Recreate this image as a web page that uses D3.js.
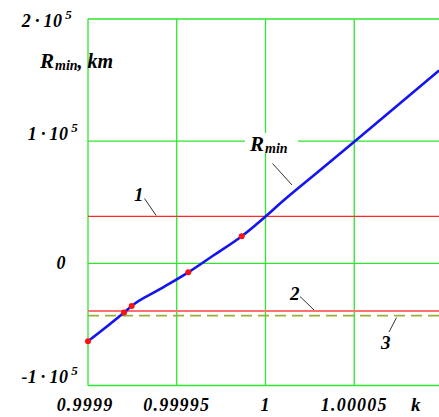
<!DOCTYPE html>
<html><head><meta charset="utf-8">
<script src="https://cdn.jsdelivr.net/npm/d3@7"></script>
<style>
body{margin:0;background:#fff;}
text{font-family:"Liberation Serif","Times New Roman",serif;font-weight:bold;font-style:italic;fill:#000;}
</style></head><body>
<svg id="c" width="439" height="417"></svg>
<script>
// data
const kValues = [0.99990, 0.9999203, 0.9999246, 0.99994, 0.9999565, 0.99997, 0.9999866, 1.0000002, 1.0000082, 1.00003, 1.0000505, 1.0000978];
const rValues = [-63800, -40300, -34900, -21600, -7400, 5800, 22100, 38500, 48900, 75300, 100100, 157900];
const dotK = [0.99990, 0.9999203, 0.9999246, 0.9999565, 0.9999866];
const dotR = [-63800, -40300, -34900, -7400, 22100];
const line1 = 38500, line2 = -39000, line3 = -42800;
const xTicks = [0.9999, 0.99995, 1, 1.00005];
const xTickLabels = ["0.9999", "0.99995", "1", "1.00005"];
const yTicks = [-100000, 0, 100000, 200000];
const yTickMant = ["-1", "0", "1", "2"];

const svg = d3.select("#c");
const x = d3.scaleLinear().domain([0.9999, 1.0001]).range([88, 443]);
const y = d3.scaleLinear().domain([-100000, 200000]).range([385.5, 19]);

const grid = "#2de62d";
// grid
svg.selectAll(".vg").data(d3.range(0, 5)).join("line")
  .attr("x1", i => x(0.9999 + i * 0.00005)).attr("x2", i => x(0.9999 + i * 0.00005))
  .attr("y1", y(200000)).attr("y2", y(-100000))
  .attr("stroke", grid).attr("stroke-width", 1.3);
svg.selectAll(".hg").data(yTicks).join("line")
  .attr("x1", x(0.9999)).attr("x2", x(1.0001))
  .attr("y1", d => y(d)).attr("y2", d => y(d))
  .attr("stroke", grid).attr("stroke-width", 1.3);

// reference lines
svg.append("line").attr("x1", x(0.9999)).attr("x2", x(1.0001)).attr("y1", y(line1)).attr("y2", y(line1))
  .attr("stroke", "#ff2a2a").attr("stroke-width", 1.3);
svg.append("line").attr("x1", x(0.9999)).attr("x2", x(1.0001)).attr("y1", y(line2)).attr("y2", y(line2))
  .attr("stroke", "#ff7070").attr("stroke-width", 2);
svg.append("line").attr("x1", x(0.9999)).attr("x2", x(1.0001)).attr("y1", y(line3)).attr("y2", y(line3))
  .attr("stroke", "#98b03a").attr("stroke-width", 1.6).attr("stroke-dasharray", "11,6");

// curve
const pts = kValues.map((k, i) => [k, rValues[i]]);
svg.append("path").datum(pts)
  .attr("d", d3.line().x(d => x(d[0])).y(d => y(d[1])).curve(d3.curveMonotoneX))
  .attr("fill", "none").attr("stroke", "#1414f0").attr("stroke-width", 2.6);

svg.selectAll(".dot").data(dotK).join("circle")
  .attr("cx", d => x(d)).attr("cy", (d, i) => y(dotR[i])).attr("r", 3)
  .attr("fill", "#ff1010");

// x tick labels
svg.selectAll(".xl").data(xTicks).join("text")
  .attr("x", (d, i) => x(d) - (i === 0 ? 3 : 0)).attr("y", 411)
  .attr("text-anchor", "middle").attr("font-size", 18).attr("letter-spacing", 1.2)
  .text((d, i) => xTickLabels[i]);
svg.append("text").attr("x", 411).attr("y", 411).attr("font-size", 19).text("k");

// y tick labels
yTicks.forEach((v, i) => {
  const yy = y(v);
  if (yTickMant[i] === "0") {
    svg.append("text").attr("x", 61).attr("y", yy + 6).attr("text-anchor", "middle")
      .attr("font-size", 18).text("0");
    return;
  }
  const base = v === 200000 ? yy + 8 : (v === 100000 ? yy - 1 : yy - 3);
  const t = svg.append("text").attr("x", v === 200000 ? 72 : 78).attr("y", base)
    .attr("text-anchor", "end").attr("font-size", 18).attr("letter-spacing", 0.3);
  t.append("tspan").text(yTickMant[i] + "\u2009\u00b7\u200910");
  t.append("tspan").attr("font-size", 13).attr("dx", 3).attr("dy", -8).text("5");
});

// y axis title
const yt = svg.append("text").attr("x", 40).attr("y", 68).attr("font-size", 21);
yt.append("tspan").text("R");
yt.append("tspan").attr("font-size", 14).attr("dy", 2).attr("dx", 1).text("min");
yt.append("tspan").attr("font-size", 20).attr("dy", -2).text(", km");

// in-plot labels
const lead = "#333";
// R_min label with white background
svg.append("rect").attr("x", 245).attr("y", 133).attr("width", 53).attr("height", 20).attr("fill", "#fff");
const rl = svg.append("text").attr("x", 250).attr("y", 151).attr("font-size", 21);
rl.append("tspan").text("R");
rl.append("tspan").attr("font-size", 14).attr("dy", 2).attr("dx", 1).text("min");
svg.append("line").attr("x1", 272.5).attr("y1", 163.5).attr("x2", 292).attr("y2", 185)
  .attr("stroke", lead).attr("stroke-width", 1);

svg.append("text").attr("x", 134).attr("y", 201).attr("font-size", 19).text("1");
svg.append("line").attr("x1", 144.5).attr("y1", 198.5).attr("x2", 156).attr("y2", y(line1) - 1)
  .attr("stroke", lead).attr("stroke-width", 1);

svg.append("text").attr("x", 290).attr("y", 300).attr("font-size", 19).text("2");
svg.append("line").attr("x1", 300).attr("y1", 296.5).attr("x2", 314).attr("y2", y(line2) - 1)
  .attr("stroke", lead).attr("stroke-width", 1);

svg.append("text").attr("x", 381).attr("y", 349).attr("font-size", 19).text("3");
svg.append("line").attr("x1", 396.5).attr("y1", y(line3) + 2).attr("x2", 389).attr("y2", 332)
  .attr("stroke", lead).attr("stroke-width", 1);
</script>
</body></html>
